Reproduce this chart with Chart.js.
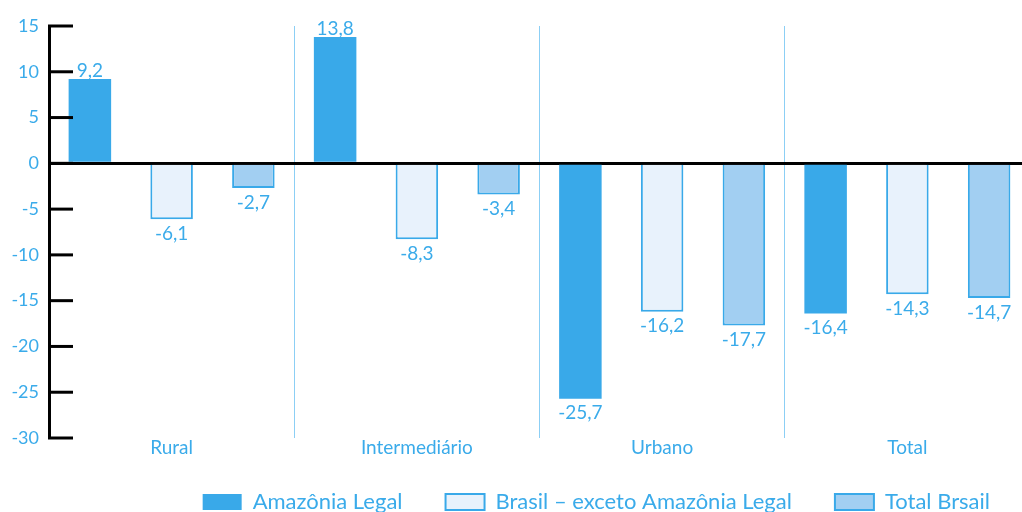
<!DOCTYPE html>
<html>
<head>
<meta charset="utf-8">
<script src="https://cdn.jsdelivr.net/npm/chart.js@4.4.1/dist/chart.umd.min.js"></script>
<style>
  html, body { margin: 0; padding: 0; background: #fff; overflow: hidden; }
  #wrap { width: 1030px; height: 512px; }
</style>
</head>
<body>
<div id="wrap"><canvas id="chart" width="1030" height="512"></canvas></div>
<script>
const categories = ['Rural', 'Intermediário', 'Urbano', 'Total'];
const amazoniaLegal = [9.2, 13.8, -25.7, -16.4];
const brasilExceto = [-6.1, -8.3, -16.2, -14.3];
const totalBrasil = [-2.7, -3.4, -17.7, -14.7];
const seriesNames = ['Amazônia Legal', 'Brasil – exceto Amazônia Legal', 'Total Brsail'];

const blue = '#39a9e9';
const textBlue = '#3aabea';
const fontFamily = 'Lato, "Noto Sans", sans-serif';

Chart.defaults.font.family = fontFamily;
Chart.defaults.color = textBlue;

// inward tick marks on the y axis
const innerTicks = {
  id: 'innerTicks',
  afterDraw(chart) {
    const ctx = chart.ctx;
    const y = chart.scales.y;
    const left = chart.chartArea.left;
    ctx.save();
    ctx.strokeStyle = '#000';
    ctx.lineWidth = 3;
    y.ticks.forEach((t, i) => {
      const py = y.getPixelForTick(i);
      ctx.beginPath();
      ctx.moveTo(left - 1, py);
      ctx.lineTo(left + 24, py);
      ctx.stroke();
    });
    ctx.restore();
  }
};

// value labels above/below bars
const valueLabels = {
  id: 'valueLabels',
  afterDatasetsDraw(chart) {
    const ctx = chart.ctx;
    ctx.save();
    ctx.font = '19px ' + fontFamily;
    ctx.fillStyle = textBlue;
    ctx.textAlign = 'center';
    chart.data.datasets.forEach((ds, di) => {
      chart.getDatasetMeta(di).data.forEach((bar, i) => {
        const v = ds.data[i];
        const txt = v.toFixed(1).replace('.', ',');
        if (v >= 0) {
          ctx.textBaseline = 'bottom';
          ctx.fillText(txt, bar.x, bar.y + 1);
        } else {
          ctx.textBaseline = 'top';
          ctx.fillText(txt, bar.x, bar.y + 5);
        }
      });
    });
    ctx.restore();
  }
};

// nudge the legend to where it sits in the original
const legendShift = {
  id: 'legendShift',
  afterLayout(chart) {
    const lg = chart.legend;
    lg.left -= 30; lg.right -= 30;
    lg.top += 20; lg.bottom += 20;
  }
};

new Chart(document.getElementById('chart'), {
  type: 'bar',
  data: {
    labels: categories,
    datasets: [
      { label: seriesNames[0], data: amazoniaLegal, backgroundColor: blue, borderColor: blue, borderWidth: 0 },
      { label: seriesNames[1], data: brasilExceto, backgroundColor: '#e8f2fc', borderColor: blue, borderWidth: 2 },
      { label: seriesNames[2], data: totalBrasil, backgroundColor: '#a2cff2', borderColor: blue, borderWidth: 2 }
    ]
  },
  options: {
    responsive: false,
    animation: false,
    devicePixelRatio: 1,
    layout: { padding: { top: 26, left: 0, right: 0, bottom: 9 } },
    datasets: { bar: { categoryPercentage: 1.0, barPercentage: 0.52 } },
    plugins: {
      tooltip: { enabled: false },
      legend: {
        position: 'bottom',
        align: 'end',
        labels: {
          boxWidth: 39,
          boxHeight: 16,
          padding: 10,
          color: textBlue,
          font: { size: 22 },
          generateLabels(chart) {
            const items = Chart.defaults.plugins.legend.labels.generateLabels(chart);
            items.forEach((it, i) => { if (i < items.length - 1) it.text += '\u2003\u2003'; });
            return items;
          }
        }
      }
    },
    scales: {
      x: {
        afterFit(scale) { scale.height = 23; },
        grid: {
          offset: true,
          color: '#8ccff5',
          lineWidth: 1,
          drawTicks: false
        },
        border: { display: false },
        ticks: { padding: -2, color: textBlue, font: { size: 19 } }
      },
      y: {
        min: -30,
        max: 15,
        afterFit(scale) { scale.width = 49; },
        ticks: { stepSize: 5, padding: 10, color: textBlue, font: { size: 18 } },
        grid: {
          drawTicks: false,
          color: (c) => (c.tick && c.tick.value === 0 ? '#000' : 'rgba(0,0,0,0)'),
          lineWidth: (c) => (c.tick && c.tick.value === 0 ? 3 : 0)
        },
        border: { display: true, color: '#000', width: 3 }
      }
    }
  },
  plugins: [innerTicks, valueLabels, legendShift]
});
</script>
</body>
</html>
